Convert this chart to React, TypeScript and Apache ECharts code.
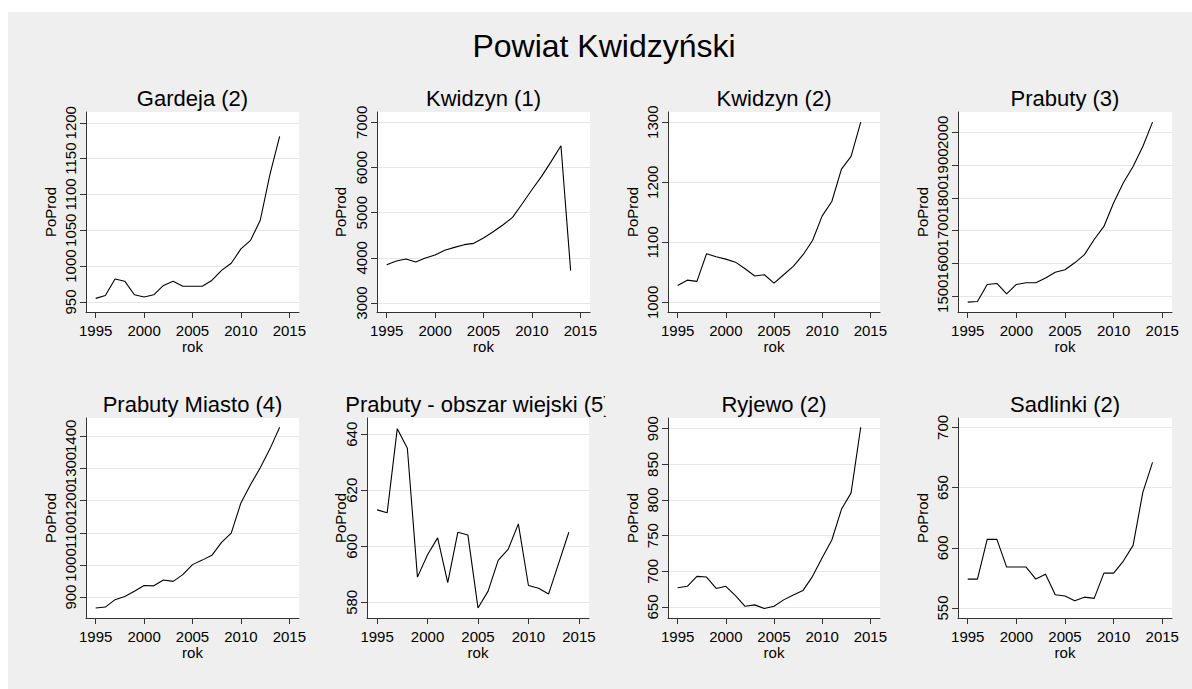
import React, { useEffect, useRef } from "react";
import * as echarts from "echarts";

const years = [1995, 1996, 1997, 1998, 1999, 2000, 2001, 2002, 2003, 2004, 2005, 2006, 2007, 2008, 2009, 2010, 2011, 2012, 2013, 2014];

const mainTitle = "Powiat Kwidzyński";
const panelTitles = [
  "Gardeja (2)",
  "Kwidzyn (1)",
  "Kwidzyn (2)",
  "Prabuty (3)",
  "Prabuty Miasto (4)",
  "Prabuty - obszar wiejski (5)",
  "Ryjewo (2)",
  "Sadlinki (2)",
];
const yName = "PoProd";
const xName = "rok";

const gardeja = [955, 959, 982, 979, 960, 957, 960, 973, 979, 972, 972, 972, 980, 994, 1004, 1024, 1036, 1064, 1128, 1181];
const kwidzyn1 = [3849, 3930, 3974, 3908, 3996, 4063, 4166, 4232, 4292, 4321, 4439, 4579, 4727, 4897, 5199, 5509, 5804, 6137, 6483, 3716];
const kwidzyn2 = [1028, 1037, 1035, 1081, 1076, 1072, 1067, 1056, 1044, 1046, 1032, 1046, 1060, 1079, 1103, 1144, 1168, 1222, 1243, 1300];
const prabuty = [1482, 1484, 1536, 1539, 1507, 1536, 1541, 1541, 1556, 1573, 1581, 1602, 1627, 1673, 1713, 1785, 1846, 1896, 1957, 2031];
const prabutyMiasto = [866, 869, 892, 902, 918, 936, 935, 953, 949, 970, 1001, 1015, 1030, 1070, 1099, 1193, 1250, 1302, 1361, 1428];
const prabutyWies = [613, 612, 642, 635, 589, 597, 603, 587, 605, 604, 578, 584, 595, 599, 608, 586, 585, 583, 594, 605];
const ryjewo = [677, 679, 693, 692, 676, 679, 666, 651, 653, 648, 651, 660, 667, 673, 693, 719, 744, 787, 810, 902];
const sadlinki = [574, 574, 607, 607, 584, 584, 584, 574, 578, 561, 560, 556, 559, 558, 579, 579, 589, 602, 646, 671];

const xTicks = [1995, 2000, 2005, 2010, 2015];
const yTicks1 = [950, 1000, 1050, 1100, 1150, 1200];
const yTicks2 = [3000, 4000, 5000, 6000, 7000];
const yTicks3 = [1000, 1100, 1200, 1300];
const yTicks4 = [1500, 1600, 1700, 1800, 1900, 2000];
const yTicks5 = [900, 1000, 1100, 1200, 1300, 1400];
const yTicks6 = [580, 600, 620, 640];
const yTicks7 = [650, 700, 750, 800, 850, 900];
const yTicks8 = [550, 600, 650, 700];

const seriesValues = [gardeja, kwidzyn1, kwidzyn2, prabuty, prabutyMiasto, prabutyWies, ryjewo, sadlinki];
const seriesTicks = [yTicks1, yTicks2, yTicks3, yTicks4, yTicks5, yTicks6, yTicks7, yTicks8];

// layout: axis ranges and grid boxes
const yRanges = [
  [936, 1215],
  [2800, 7231],
  [984, 1317],
  [1452, 2062],
  [835, 1457],
  [574.4, 645.8],
  [634.6, 915],
  [541.7, 707.8],
];
const gridBoxes = [
  { left: 86, top: 112, width: 213, height: 200, nameGap: 28.5 },
  { left: 377, top: 112, width: 213, height: 200, nameGap: 29.5 },
  { left: 668, top: 112, width: 212, height: 200, nameGap: 28.5 },
  { left: 958, top: 112, width: 214, height: 200, nameGap: 28.5 },
  { left: 86, top: 418, width: 213, height: 200, nameGap: 28.5 },
  { left: 367, top: 418, width: 222, height: 200, nameGap: 19.5 },
  { left: 668, top: 418, width: 212, height: 200, nameGap: 28.5 },
  { left: 958, top: 418, width: 214, height: 200, nameGap: 28.5 },
];
const titleY = [98, 98, 98, 98, 404, 404, 404, 404];

const FONT = "'Liberation Sans', Arial, Helvetica, sans-serif";
const AXIS_COLOR = "#333333";
const GRID_COLOR = "#e6e6e6";

export default function App() {
  const ref = useRef<HTMLDivElement>(null);

  useEffect(() => {
    if (!ref.current) return;
    const chart = echarts.init(ref.current, undefined, { renderer: "svg" });

    const grids: any[] = [];
    const xAxes: any[] = [];
    const yAxes: any[] = [];
    const series: any[] = [];
    const graphics: any[] = [];

    graphics.push({
      type: "text",
      x: 604,
      y: 46,
      style: {
        text: mainTitle,
        font: `32px ${FONT}`,
        fill: "#000",
        align: "center",
        verticalAlign: "middle",
        textAlign: "center",
        textVerticalAlign: "middle",
      },
    });

    const labelStyle = {
      show: true,
      showMinLabel: true,
      showMaxLabel: true,
      hideOverlap: false,
      fontFamily: FONT,
      fontSize: 15,
      color: "#000",
      formatter: (v: number) => String(v),
    };

    gridBoxes.forEach((b, i) => {
      grids.push({
        left: b.left,
        top: b.top,
        width: b.width,
        height: b.height,
        show: true,
        backgroundColor: "#ffffff",
        borderWidth: 0,
        containLabel: false,
      });
      xAxes.push({
        type: "value",
        gridIndex: i,
        min: 1994,
        max: 2016,
        name: xName,
        nameLocation: "middle",
        nameGap: 26,
        nameTextStyle: { fontFamily: FONT, fontSize: 15, color: "#000" },
        axisLine: { show: true, onZero: false, lineStyle: { color: AXIS_COLOR, width: 1 } },
        axisTick: { show: true, length: 6, customValues: xTicks, lineStyle: { color: AXIS_COLOR } },
        axisLabel: { ...labelStyle, customValues: xTicks, margin: 11 },
        splitLine: { show: false },
      });
      const ticks = seriesTicks[i];
      const evenTicks = ticks.filter((_, k) => k % 2 === 0);
      const oddTicks = ticks.filter((_, k) => k % 2 === 1);
      const mainIndex = yAxes.length;
      // main y axis: line, ticks, grid lines, name and every other label
      yAxes.push({
        type: "value",
        gridIndex: i,
        position: "left",
        offset: 0,
        min: yRanges[i][0],
        max: yRanges[i][1],
        name: yName,
        nameLocation: "middle",
        nameGap: b.nameGap,
        nameMoveOverlap: false,
        nameTextStyle: { fontFamily: FONT, fontSize: 15, color: "#000" },
        axisLine: { show: true, onZero: false, lineStyle: { color: AXIS_COLOR, width: 1 } },
        axisTick: { show: true, length: 6, customValues: ticks, lineStyle: { color: AXIS_COLOR } },
        axisLabel: { ...labelStyle, customValues: evenTicks, rotate: 90, margin: 8 },
        splitLine: { show: true, lineStyle: { color: GRID_COLOR, width: 1 } },
      });
      // twin y axis at the same place carrying the remaining labels (they may overlap, as in the original)
      yAxes.push({
        type: "value",
        gridIndex: i,
        position: "left",
        offset: 0,
        min: yRanges[i][0],
        max: yRanges[i][1],
        axisLine: { show: false, onZero: false },
        axisTick: { show: false },
        axisLabel: { ...labelStyle, customValues: oddTicks, rotate: 90, margin: 8 },
        splitLine: { show: false },
      });
      series.push({
        type: "line",
        xAxisIndex: i,
        yAxisIndex: mainIndex,
        data: years.map((y, k) => [y, seriesValues[i][k]]),
        symbol: "none",
        showSymbol: false,
        lineStyle: { color: "#000", width: 1.1 },
        itemStyle: { color: "#000" },
      });
      graphics.push({
        type: "text",
        x: b.left + b.width / 2,
        y: titleY[i],
        style: {
          text: panelTitles[i],
          font: `22px ${FONT}`,
          fill: "#000",
          align: "center",
          verticalAlign: "middle",
          textAlign: "center",
          textVerticalAlign: "middle",
        },
      });
    });

    // clip of the over-long sub-title (cell boundary)
    graphics.push({
      type: "rect",
      shape: { x: 605, y: 388, width: 40, height: 28 },
      style: { fill: "#efefef" },
    });

    chart.setOption({
      animation: false,
      backgroundColor: "transparent",
      grid: grids,
      xAxis: xAxes,
      yAxis: yAxes,
      series,
      graphic: graphics,
    });

    return () => chart.dispose();
  }, []);

  return (
    <div style={{ position: "fixed", left: 0, top: 0, width: 1192, height: 689, background: "#ffffff" }}>
      <div style={{ position: "absolute", left: 8, top: 12, width: 1184, height: 677, background: "#efefef" }} />
      <div ref={ref} style={{ position: "absolute", left: 0, top: 0, width: 1192, height: 689 }} />
    </div>
  );
}
